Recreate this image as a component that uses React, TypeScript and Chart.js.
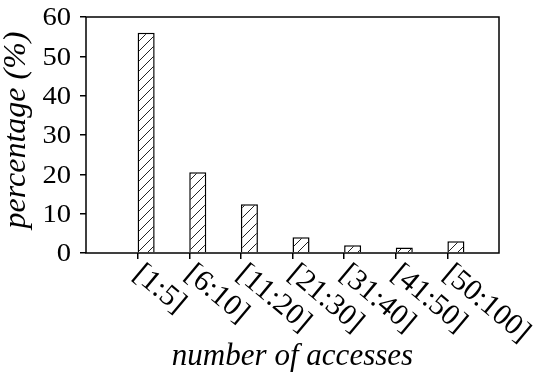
import React, { useEffect, useRef } from "react";
import { Chart, registerables } from "chart.js";

Chart.register(...registerables);

const categories = ["[1:5]", "[6:10]", "[11:20]", "[21:30]", "[31:40]", "[41:50]", "[50:100]"];
const percentages = [56, 20.5, 12.4, 4, 2, 1.4, 3];
const yMin = 0;
const yMax = 60;
const yStep = 10;
const yTitle = "percentage (%)";
const xTitle = "number of accesses";

const FONT = '"Liberation Serif", "DejaVu Serif", serif';

function makeHatch(): CanvasPattern | string {
  const c = document.createElement("canvas");
  const s = 10;
  c.width = s;
  c.height = s;
  const g = c.getContext("2d");
  if (!g) return "#fff";
  g.fillStyle = "#fff";
  g.fillRect(0, 0, s, s);
  g.strokeStyle = "#222";
  g.lineWidth = 1;
  g.beginPath();
  g.moveTo(0, s);
  g.lineTo(s, 0);
  g.moveTo(-2, 2);
  g.lineTo(2, -2);
  g.moveTo(s - 2, s + 2);
  g.lineTo(s + 2, s - 2);
  g.stroke();
  const p = g.createPattern(c, "repeat");
  return p || "#fff";
}

const overlay = {
  id: "overlay",
  afterDraw(chart: any) {
    const { ctx, chartArea } = chart;
    const { left, top, right, bottom } = chartArea;
    ctx.save();
    ctx.strokeStyle = "#000";
    ctx.lineWidth = 1.5;
    ctx.strokeRect(left, top, right - left, bottom - top);

    ctx.fillStyle = "#000";

    // y tick labels
    const ys = chart.scales.y;
    ctx.font = `26px ${FONT}`;
    ctx.textAlign = "right";
    ctx.textBaseline = "middle";
    ys.ticks.forEach((t: any) => {
      const py = ys.getPixelForValue(t.value);
      ctx.save();
      ctx.translate(71, py + 1.5);
      ctx.scale(1.1, 1);
      ctx.fillText(String(t.value), 0, 0);
      ctx.restore();
    });

    // x tick labels, rotated clockwise
    const xs = chart.scales.x;
    ctx.font = `30px ${FONT}`;
    ctx.textAlign = "left";
    ctx.textBaseline = "top";
    categories.forEach((cat, i) => {
      const px = xs.getPixelForValue(i + 1);
      ctx.save();
      ctx.translate(px + 9, bottom + 6);
      ctx.rotate((40 * Math.PI) / 180);
      ctx.fillText(cat, 0, 0);
      ctx.restore();
    });

    // axis titles
    ctx.font = `italic 32px ${FONT}`;
    ctx.textAlign = "center";
    ctx.textBaseline = "alphabetic";
    ctx.save();
    ctx.translate((left + right) / 2, 365);
    ctx.scale(0.97, 1);
    ctx.fillText(xTitle, 0, 0);
    ctx.restore();

    ctx.textBaseline = "middle";
    ctx.save();
    ctx.translate(17, 130);
    ctx.rotate(-Math.PI / 2);
    ctx.fillText(yTitle, 0, 0);
    ctx.restore();
    ctx.restore();
  },
};

export default function App() {
  const ref = useRef<HTMLCanvasElement | null>(null);

  useEffect(() => {
    if (!ref.current) return;
    const labels = ["", ...categories, ""];
    const values = [null, ...percentages, null];
    const chart = new Chart(ref.current, {
      type: "bar",
      data: {
        labels,
        datasets: [
          {
            data: labels.map(() => null),
            backgroundColor: "transparent",
          },
          {
            data: values,
            backgroundColor: makeHatch() as any,
            borderColor: "#000",
            borderWidth: 1.5,
          },
        ],
      },
      options: {
        animation: false,
        responsive: true,
        maintainAspectRatio: false,
        devicePixelRatio: 1,
        layout: { padding: { left: 0, top: 17, right: 45, bottom: 0 } },
        datasets: {
          bar: { categoryPercentage: 0.66, barPercentage: 1 },
        },
        plugins: {
          legend: { display: false },
          tooltip: { enabled: false },
        },
        scales: {
          x: {
            type: "category",
            offset: false,
            border: { display: false },
            grid: {
              offset: false,
              drawOnChartArea: false,
              drawTicks: true,
              tickLength: 6,
              lineWidth: 1.5,
              color: (c: any) => (c.index === 0 || c.index === labels.length - 1 ? "rgba(0,0,0,0)" : "#000"),
            },
            ticks: { display: false, autoSkip: false },
            afterFit: (s: any) => {
              s.height = 125;
              s.paddingLeft = 0;
              s.paddingRight = 0;
            },
          },
          y: {
            min: yMin,
            max: yMax,
            border: { display: false },
            grid: {
              drawOnChartArea: false,
              drawTicks: true,
              tickLength: 6,
              lineWidth: 1.5,
              color: "#000",
            },
            ticks: {
              display: false,
              stepSize: yStep,
            },
            afterFit: (s: any) => {
              s.width = 86;
              s.paddingTop = 0;
              s.paddingBottom = 0;
            },
          },
        },
      },
      plugins: [overlay],
    });
    return () => chart.destroy();
  }, []);

  return (
    <div style={{ position: "fixed", left: 0, top: 0, width: 544, height: 378, background: "#fff" }}>
      <canvas ref={ref} />
    </div>
  );
}
